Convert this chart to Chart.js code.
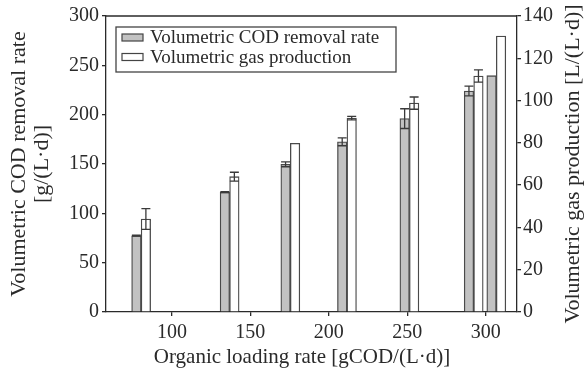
<!DOCTYPE html>
<html lang="en">
<head>
  <meta charset="UTF-8">
  <title>COD removal and gas production</title>
  <style>
    html, body { margin: 0; padding: 0; background: #fff; }
    #wrap { width: 584px; height: 371px; }
  </style>
</head>
<body>
  <div id="wrap"><canvas id="grafica" width="584" height="371"></canvas></div>
  <script src="https://cdn.jsdelivr.net/npm/chart.js"></script>
  <script>
    // Organic loading rate of each run, gCOD/(L·d)
    const olr = [80.4, 136.8, 175.5, 211.6, 251.4, 292.4, 306.8];
    // Volumetric COD removal rate, g/(L·d), and its deviation
    const codRate = [77.3, 121.4, 149.7, 172.5, 196, 224, 239.5];
    const codErr = [0.5, 0.5, 2.5, 4, 10, 5, 0];
    // Volumetric gas production, L/(L·d), and its deviation
    const gasRate = [44, 64, 79.8, 91.7, 98.8, 111.6, 130.5];
    const gasErr = [4.9, 2.1, 0, 0.8, 2.9, 2.9, 0];

    const xTicks = [100, 150, 200, 250, 300];
    const seriesNames = ["Volumetric COD removal rate", "Volumetric gas production"];
    const xTitle = "Organic loading rate [gCOD/(L·d)]";
    const rightTitle = "Volumetric gas production [L/(L·d)]";

    const serif = "'Liberation Serif', 'Times New Roman', serif";
    const ink = "#2a2a2a";

    // vertical error bars with caps, drawn on the bar centres
    const errorBars = {
      id: "errorBars",
      afterDatasetsDraw(chart) {
        const ctx = chart.ctx;
        ctx.save();
        ctx.strokeStyle = "#3a3a3a";
        ctx.lineWidth = 1.3;
        chart.data.datasets.forEach((ds, i) => {
          const meta = chart.getDatasetMeta(i);
          const yScale = chart.scales[ds.yAxisID];
          meta.data.forEach((bar, j) => {
            const err = ds.errors[j];
            if (!err) return;
            const v = ds.data[j].y;
            const yTop = yScale.getPixelForValue(v + err);
            const yBot = yScale.getPixelForValue(v - err);
            const x = bar.x;
            const half = 4.5;
            ctx.beginPath();
            ctx.moveTo(x, yTop); ctx.lineTo(x, yBot);
            ctx.moveTo(x - half, yTop); ctx.lineTo(x + half, yTop);
            ctx.moveTo(x - half, yBot); ctx.lineTo(x + half, yBot);
            ctx.stroke();
          });
        });
        ctx.restore();
      }
    };

    // top edge of the frame, boxed legend, x title and the right title read bottom-up
    const frameAndLegend = {
      id: "frameAndLegend",
      afterDraw(chart) {
        const ctx = chart.ctx;
        const a = chart.chartArea;
        ctx.save();
        ctx.strokeStyle = ink;
        ctx.lineWidth = 1.3;
        ctx.beginPath();
        ctx.moveTo(a.left, a.top);
        ctx.lineTo(a.right, a.top);
        ctx.stroke();

        const bx = 116, by = 27, bw = 280, bh = 45;
        ctx.lineWidth = 1.3;
        ctx.strokeStyle = "#444";
        ctx.strokeRect(bx, by, bw, bh);

        ctx.font = "19px " + serif;
        ctx.textBaseline = "middle";
        chart.data.datasets.forEach((ds, i) => {
          const cy = by + 10.5 + i * 19.5;
          ctx.fillStyle = ds.backgroundColor;
          ctx.fillRect(122, cy - 3.5, 21, 7);
          ctx.strokeStyle = "#444";
          ctx.lineWidth = 1.2;
          ctx.strokeRect(122, cy - 3.5, 21, 7);
          ctx.fillStyle = ink;
          ctx.fillText(ds.label, 150, cy + 1);
        });

        ctx.fillStyle = ink;
        ctx.textAlign = "center";
        ctx.font = "21px " + serif;
        ctx.fillText(xTitle, 302, 357);

        ctx.font = "22px " + serif;
        ctx.translate(573, (a.top + a.bottom) / 2);
        ctx.rotate(-Math.PI / 2);
        ctx.fillText(rightTitle, 0, 0);
        ctx.restore();
      }
    };

    const toPoints = (vals) => vals.map((v, i) => ({ x: olr[i], y: v }));

    const tickFont = { family: serif, size: 20 };
    const titleFont = { family: serif, size: 22, lineHeight: 1.05 };

    new Chart(document.getElementById("grafica"), {
      type: "bar",
      data: {
        datasets: [
          {
            label: seriesNames[0],
            data: toPoints(codRate),
            errors: codErr,
            yAxisID: "y",
            backgroundColor: "#c2c2c2",
            borderColor: "#4a4a4a",
            borderWidth: 1.3,
            barThickness: 9.5
          },
          {
            label: seriesNames[1],
            data: toPoints(gasRate),
            errors: gasErr,
            yAxisID: "y1",
            backgroundColor: "#ffffff",
            borderColor: "#4a4a4a",
            borderWidth: 1.3,
            barThickness: 9.5
          }
        ]
      },
      options: {
        responsive: false,
        animation: false,
        layout: { padding: { top: 16, left: 0, right: 0, bottom: 0 } },
        plugins: {
          legend: { display: false },
          tooltip: { enabled: false }
        },
        scales: {
          x: {
            type: "linear",
            min: 58,
            max: 320,
            offset: false,
            afterBuildTicks: (s) => { s.ticks = xTicks.map(v => ({ value: v })); },
            afterFit: (s) => { s.height = 59; },
            grid: { offset: false, drawOnChartArea: false, drawTicks: true, tickLength: 4, color: ink, lineWidth: 1.3 },
            border: { color: ink, width: 1.3 },
            ticks: { font: tickFont, color: ink, padding: 5, maxRotation: 0 }
          },
          y: {
            position: "left",
            min: 0,
            max: 300,
            afterFit: (s) => { s.width = 106; },
            grid: { drawOnChartArea: false, drawTicks: true, tickLength: 4, color: ink, lineWidth: 1.3 },
            border: { color: ink, width: 1.3 },
            ticks: { stepSize: 50, font: tickFont, color: ink, padding: 3 },
            title: {
              display: true,
              text: ["Volumetric COD removal rate", "[g/(L·d)]"],
              font: titleFont,
              color: ink,
              padding: { top: 8, bottom: 0 }
            }
          },
          y1: {
            position: "right",
            min: 0,
            max: 140,
            afterFit: (s) => { s.width = 67; },
            grid: { drawOnChartArea: false, drawTicks: true, tickLength: 4, color: ink, lineWidth: 1.3 },
            border: { color: ink, width: 1.3 },
            ticks: { stepSize: 20, font: tickFont, color: ink, padding: 2 }
          }
        }
      },
      plugins: [errorBars, frameAndLegend]
    });
  </script>
</body>
</html>
